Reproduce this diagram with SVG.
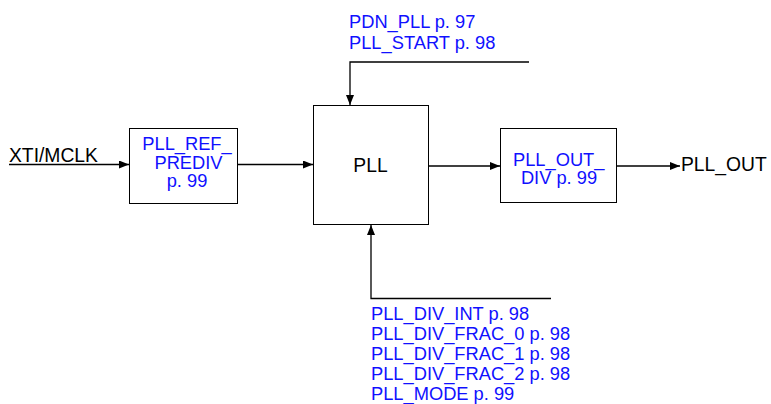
<svg xmlns="http://www.w3.org/2000/svg" width="771" height="404" viewBox="0 0 771 404">
<style>
.box{fill:#fff;stroke:#000;stroke-width:1}
.ln{fill:none;stroke:#000;stroke-width:1.3}
.b{font-family:"Liberation Sans",Arial,sans-serif;font-size:18.3px;fill:#1010ff}
.k{font-family:"Liberation Sans",Arial,sans-serif;font-size:19.3px;fill:#000}
</style>
<defs>
<marker id="ah" viewBox="0 0 10 8" refX="10" refY="4" markerWidth="10" markerHeight="8" markerUnits="userSpaceOnUse" orient="auto">
<path d="M0,0 L10,4 L0,8 Z" fill="#000"/>
</marker>
</defs>
<rect width="771" height="404" fill="#fff"/>
<g id="connectors">
<line class="ln" x1="9" y1="164.5" x2="129" y2="164.5" marker-end="url(#ah)"/>
<line class="ln" x1="237" y1="164.5" x2="313" y2="164.5" marker-end="url(#ah)"/>
<line class="ln" x1="429" y1="166" x2="500" y2="166" marker-end="url(#ah)"/>
<line class="ln" x1="617" y1="166" x2="680" y2="166" marker-end="url(#ah)"/>
<polyline class="ln" points="529,62 350,62 350,105" marker-end="url(#ah)"/>
<polyline class="ln" points="551,298.5 371,298.5 371,225" marker-end="url(#ah)"/>
</g>
<g id="xti">
<text class="k" x="9" y="162">XTI/MCLK</text>
</g>
<g id="pll_ref_prediv">
<rect class="box" x="129.5" y="128.5" width="108" height="75"/>
<text class="b" x="187" y="149.5" text-anchor="middle">PLL_REF_</text>
<text class="b" x="188.5" y="168.5" text-anchor="middle">PREDIV</text>
<text class="b" x="187" y="187" text-anchor="middle">p. 99</text>
</g>
<g id="pll">
<rect class="box" x="313.5" y="105.5" width="115" height="119"/>
<text class="k" x="370.5" y="172" text-anchor="middle">PLL</text>
</g>
<g id="pll_out_div">
<rect class="box" x="500.5" y="128.5" width="116" height="74"/>
<text class="b" x="558.7" y="166" text-anchor="middle">PLL_OUT_</text>
<text class="b" x="559" y="183.5" text-anchor="middle">DIV p. 99</text>
</g>
<g id="pll_out">
<text class="k" x="681" y="171">PLL_OUT</text>
</g>
<g id="top_regs">
<text class="b" x="349" y="27.5">PDN_PLL p. 97</text>
<text class="b" x="349" y="48.5">PLL_START p. 98</text>
</g>
<g id="bottom_regs">
<text class="b" x="371" y="319.5">PLL_DIV_INT p. 98</text>
<text class="b" x="371" y="339.5">PLL_DIV_FRAC_0 p. 98</text>
<text class="b" x="371" y="359.5">PLL_DIV_FRAC_1 p. 98</text>
<text class="b" x="371" y="379.5">PLL_DIV_FRAC_2 p. 98</text>
<text class="b" x="371" y="399.5">PLL_MODE p. 99</text>
</g>
</svg>
